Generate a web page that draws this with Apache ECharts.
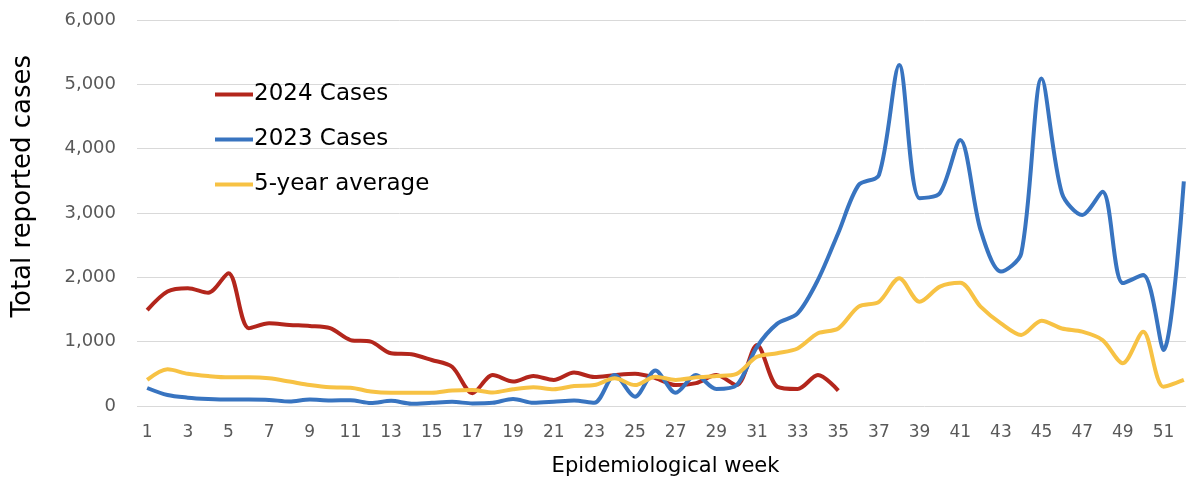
<!DOCTYPE html>
<html>
<head>
<meta charset="utf-8">
<script src="https://cdn.jsdelivr.net/npm/echarts@6/dist/echarts.min.js"></script>
<style>
  html, body { margin: 0; padding: 0; background: #fff; }
  #container { width: 1186px; height: 481px; }
</style>
</head>
<body>
<div id="container"></div>
<script>
var dom = document.getElementById('container');
var myChart = echarts.init(dom, null, { renderer: 'canvas' });

// epidemiological weeks 1..52
var weeks = [];
for (var w = 1; w <= 52; w++) weeks.push(String(w));

// 2024 reports stop at week 35
var cases2024 = [1490, 1780, 1830, 1760, 2065, 1210, 1285, 1260, 1245, 1210,
    1025, 1000, 820, 805, 715, 610, 200, 480, 380, 465,
    405, 520, 450, 480, 500, 435, 325, 355, 480, 325,
    950, 300, 265, 480, 240];

var cases2023 = [280, 170, 130, 110, 100, 100, 95, 70, 100, 85,
    90, 45, 80, 35, 50, 65, 40, 50, 110, 50,
    65, 85, 50, 480, 145, 550, 205, 480, 265, 325,
    920, 1280, 1440, 1960, 2690, 3435, 3590, 5300, 3230, 3310,
    4135, 2735, 2090, 2370, 5090, 3310, 2970, 3330, 1910, 2035,
    870, 3490];

var avg5yr = [405, 570, 500, 465, 445, 445, 430, 380, 325, 290,
    285, 225, 205, 205, 205, 240, 250, 210, 260, 290,
    260, 310, 325, 430, 325, 455, 405, 445, 465, 500,
    765, 820, 895, 1130, 1205, 1545, 1620, 1985, 1620, 1855,
    1915, 1545, 1285, 1105, 1325, 1205, 1155, 1025, 665, 1155,
    300, 405];

var colors = ['#B3261C', '#3874C0', '#F7C244'];
var fontFam = '"DejaVu Sans", sans-serif';

function mkLine(name, data, color) {
    return {
        name: name,
        type: 'line',
        data: data,
        smooth: 0.3,
        symbol: 'none',
        lineStyle: { width: 4, color: color },
        itemStyle: { color: color }
    };
}

var option = {
    animation: false,
    // plot runs past the right edge, week 52 is cut off in the original
    grid: { left: 137, width: 1057, top: 20, bottom: 75, outerBoundsMode: 'none' },
    legend: {
        orient: 'vertical',
        left: 210,
        top: 78,
        icon: 'rect',
        itemWidth: 38,
        itemHeight: 4,
        itemGap: 22,
        textStyle: { fontSize: 23, color: '#000', fontFamily: fontFam, padding: [0, 0, 0, -4] },
        data: ['2024 Cases', '2023 Cases', '5-year average']
    },
    graphic: [{
        type: 'text',
        left: 10,
        top: 55,
        rotation: Math.PI / 2,
        style: {
            text: 'Total reported cases',
            fontSize: 26,
            fontFamily: fontFam,
            fill: '#000'
        }
    }],
    xAxis: {
        type: 'category',
        data: weeks,
        boundaryGap: true,
        name: 'Epidemiological week',
        nameLocation: 'middle',
        nameGap: 50,
        nameTextStyle: { fontSize: 21, color: '#000', fontFamily: fontFam },
        axisLine: { show: false },
        axisTick: { show: false },
        axisLabel: {
            interval: 1,
            fontSize: 17,
            color: '#595959',
            margin: 18,
            fontFamily: fontFam
        }
    },
    yAxis: {
        type: 'value',
        min: 0,
        max: 6000,
        interval: 1000,
        axisLine: { show: false },
        axisTick: { show: false },
        axisLabel: {
            fontSize: 18,
            color: '#595959',
            margin: 21,
            fontFamily: fontFam,
            formatter: function (v) { return v.toLocaleString('en-US'); }
        },
        splitLine: { lineStyle: { color: '#d9d9d9', width: 1 } }
    },
    series: [
        mkLine('2024 Cases', cases2024, colors[0]),
        mkLine('2023 Cases', cases2023, colors[1]),
        mkLine('5-year average', avg5yr, colors[2])
    ]
};

myChart.setOption(option);
</script>
</body>
</html>
